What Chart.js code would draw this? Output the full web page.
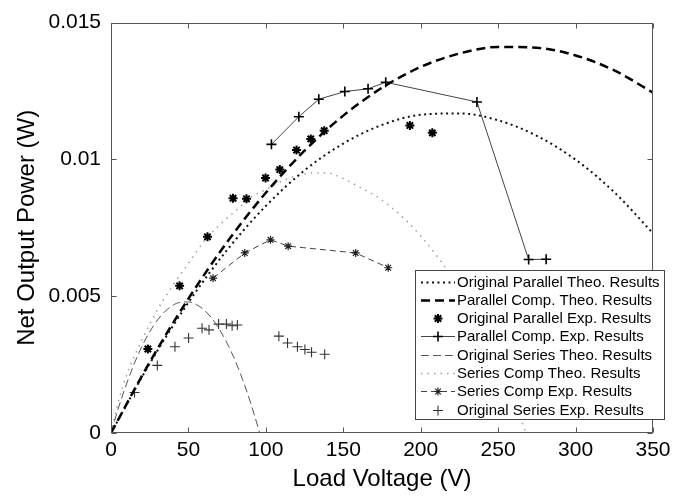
<!DOCTYPE html>
<html><head><meta charset="utf-8">
<script src="https://cdn.jsdelivr.net/npm/chart.js@4.4.0/dist/chart.umd.min.js"></script>
<style>html,body{margin:0;padding:0;background:#fff}#wrap{width:688px;height:496px}</style>
</head><body><div id="wrap"><canvas id="c" width="688" height="496"></canvas></div>
<script>
// ---- Data ----
const seriesNames = [
  'Original Parallel Theo. Results',
  'Parallel Comp. Theo. Results',
  'Original Parallel Exp. Results',
  'Parallel Comp. Exp. Results',
  'Original Series Theo. Results',
  'Series Comp Theo. Results',
  'Series Comp Exp. Results',
  'Original Series Exp. Results'
];
const xTickValues = [0, 50, 100, 150, 200, 250, 300, 350];
const xTickLabels = ['0', '50', '100', '150', '200', '250', '300', '350'];
const yTickValues = [0, 0.005, 0.01, 0.015];
const yTickLabels = ['0', '0.005', '0.01', '0.015'];
const xTitle = 'Load Voltage (V)';
const yTitle = 'Net Output Power (W)';

const origParTheoV = [0, 25, 50, 75, 100, 125, 150, 175, 200, 225, 250, 275, 300, 325, 350];
const origParTheoP = [0, 0.00254, 0.00477, 0.00669, 0.0083, 0.0096, 0.01058, 0.01126, 0.01163, 0.01168, 0.01143, 0.01086, 0.00999, 0.0088, 0.0073];

const parCompTheoV = [0, 25, 50, 75, 100, 125, 150, 175, 200, 225, 250, 275, 300, 325, 350];
const parCompTheoP = [0, 0.00259, 0.00491, 0.00698, 0.00878, 0.01032, 0.0116, 0.01262, 0.01338, 0.01387, 0.01411, 0.01408, 0.0138, 0.01325, 0.01244];

const origParExpV = [23.8, 44.3, 62.3, 78.8, 87.5, 99.8, 109, 119.8, 129, 137.7, 193, 207.5];
const origParExpP = [0.00307, 0.00538, 0.00717, 0.00858, 0.00856, 0.00932, 0.00963, 0.01034, 0.01075, 0.01105, 0.01124, 0.01097];

const parCompExpV = [103.6, 121.3, 134.2, 151, 166, 177.4, 236.3, 269.7, 281];
const parCompExpP = [0.01055, 0.01156, 0.0122, 0.01248, 0.01258, 0.01282, 0.0121, 0.00634, 0.00635];

const origSerTheoV = [0, 5, 10, 15, 20, 25, 30, 35, 40, 45, 50, 55, 60, 65, 70, 75, 80, 85, 90, 95, 96];
const origSerTheoP = [0, 0.00095, 0.00179, 0.00253, 0.00317, 0.0037, 0.00413, 0.00445, 0.00467, 0.00478, 0.00479, 0.0047, 0.0045, 0.0042, 0.00379, 0.00328, 0.00267, 0.00195, 0.00113, 0.0002, 0];

const serCompTheoV = [0, 5, 10, 20, 30, 40, 50, 60, 70, 80, 90, 100, 110, 120, 130, 140, 150, 160, 170, 180, 190, 200, 210, 220, 230, 240, 250, 260, 268];
const serCompTheoP = [0, 0.0012, 0.0021, 0.0034, 0.0045, 0.0054, 0.0062, 0.0070, 0.0076, 0.0081, 0.0086, 0.0089, 0.0092, 0.0094, 0.0095, 0.0095, 0.0093, 0.0090, 0.0087, 0.0083, 0.0078, 0.0072, 0.0065, 0.0057, 0.0047, 0.0036, 0.0025, 0.0012, 0];

const serCompExpV = [65.9, 86.4, 103, 114.4, 158, 179];
const serCompExpP = [0.00566, 0.00658, 0.00706, 0.00683, 0.00658, 0.00604];

const origSerExpV = [15.2, 29.9, 41.3, 50.1, 58.8, 63.3, 69.5, 74.5, 78.2, 81.6, 108.4, 114, 120.4, 125.2, 129.5, 138];
const origSerExpP = [0.00148, 0.00247, 0.00315, 0.00347, 0.00383, 0.00377, 0.00398, 0.00398, 0.00392, 0.00395, 0.00354, 0.00329, 0.00315, 0.00305, 0.00295, 0.00288];

const pts = (xs, ys) => xs.map((x, i) => ({x: x, y: ys[i]}));

const datasets = [
  {label: seriesNames[0], data: pts(origParTheoV, origParTheoP), showLine: true, borderColor: '#111', borderWidth: 2, borderDash: [2, 3.5], pointRadius: 0, cubicInterpolationMode: 'monotone'},
  {label: seriesNames[1], data: pts(parCompTheoV, parCompTheoP), showLine: true, borderColor: '#000', borderWidth: 2.5, borderDash: [9, 5], pointRadius: 0, cubicInterpolationMode: 'monotone'},
  {label: seriesNames[2], data: pts(origParExpV, origParExpP), showLine: false, borderColor: '#000', backgroundColor: '#000', pointStyle: 'star', pointRadius: 4.5, pointBorderWidth: 2},
  {label: seriesNames[3], data: pts(parCompExpV, parCompExpP), showLine: true, borderColor: '#444', borderWidth: 1, pointBorderColor: '#000', pointStyle: 'cross', pointRadius: 5, pointBorderWidth: 1.6, tension: 0},
  {label: seriesNames[4], data: pts(origSerTheoV, origSerTheoP), showLine: true, borderColor: '#555', borderWidth: 1, borderDash: [8, 4], pointRadius: 0, cubicInterpolationMode: 'monotone'},
  {label: seriesNames[5], data: pts(serCompTheoV, serCompTheoP), showLine: true, borderColor: '#a0a0a0', borderWidth: 1.5, borderDash: [1.5, 5], pointRadius: 0, cubicInterpolationMode: 'monotone'},
  {label: seriesNames[6], data: pts(serCompExpV, serCompExpP), showLine: true, borderColor: '#444', borderWidth: 1, borderDash: [6, 4], pointBorderColor: '#222', pointStyle: 'star', pointRadius: 4, pointBorderWidth: 1.2, tension: 0},
  {label: seriesNames[7], data: pts(origSerExpV, origSerExpP), showLine: false, borderColor: '#333', pointStyle: 'cross', pointRadius: 5, pointBorderWidth: 1.1}
];

const FONT = '"Liberation Sans", Arial, Helvetica, sans-serif';
Chart.defaults.font.family = FONT;
Chart.defaults.color = '#000';

const framePlugin = {
  id: 'frame',
  afterDatasetsDraw(chart) {
    const {ctx, chartArea: a, scales: {x, y}} = chart;
    ctx.save();
    ctx.strokeStyle = '#555';
    ctx.lineWidth = 1;
    ctx.setLineDash([]);
    const L = Math.round(a.left) + 0.5, R = Math.round(a.right) - 0.5;
    const T = Math.round(a.top) + 0.5, B = Math.round(a.bottom) - 0.5;
    ctx.strokeRect(L, T, R - L, B - T);
    const tl = 5;
    ctx.beginPath();
    xTickValues.forEach(v => {
      const px = Math.round(x.getPixelForValue(v)) + 0.5;
      ctx.moveTo(px, B); ctx.lineTo(px, B - tl);
      ctx.moveTo(px, T); ctx.lineTo(px, T + tl);
    });
    yTickValues.forEach(v => {
      const py = Math.round(y.getPixelForValue(v)) + 0.5;
      ctx.moveTo(L, py); ctx.lineTo(L + tl, py);
      ctx.moveTo(R, py); ctx.lineTo(R - tl, py);
    });
    ctx.stroke();
    ctx.restore();
  }
};

const legendPlugin = {
  id: 'boxLegend',
  afterDraw(chart) {
    const ctx = chart.ctx;
    const bx = 415.5, by = 270.5, bw = 249, bh = 149;
    ctx.save();
    ctx.fillStyle = '#fff';
    ctx.fillRect(bx, by, bw, bh);
    ctx.strokeStyle = '#444';
    ctx.lineWidth = 1;
    ctx.setLineDash([]);
    ctx.strokeRect(bx, by, bw, bh);
    const rowH = 18.3, y0 = 281.5;
    chart.data.datasets.forEach((ds, i) => {
      const yy = Math.round(y0 + i * rowH) + 0.5;
      const x1 = 421, x2 = 455, xm = 438;
      if (ds.showLine) {
        ctx.save();
        ctx.strokeStyle = ds.borderColor;
        ctx.lineWidth = ds.borderWidth;
        ctx.setLineDash(ds.borderDash || []);
        ctx.beginPath(); ctx.moveTo(x1, yy); ctx.lineTo(x2, yy); ctx.stroke();
        ctx.restore();
      }
      if (ds.pointRadius > 0) {
        ctx.save();
        ctx.setLineDash([]);
        ctx.strokeStyle = ds.pointBorderColor || ds.borderColor;
        ctx.fillStyle = ds.backgroundColor || ds.borderColor;
        ctx.lineWidth = ds.pointBorderWidth;
        Chart.helpers.drawPoint(ctx, {pointStyle: ds.pointStyle, radius: ds.pointRadius, borderWidth: ds.pointBorderWidth, rotation: 0}, xm, yy);
        ctx.restore();
      }
      ctx.fillStyle = '#000';
      ctx.font = '15px ' + FONT;
      ctx.textBaseline = 'middle';
      ctx.textAlign = 'left';
      ctx.fillText(ds.label, 457, yy + 0.5);
    });
    ctx.restore();
  }
};

new Chart(document.getElementById('c'), {
  type: 'scatter',
  data: {datasets: datasets},
  options: {
    responsive: false,
    animation: false,
    devicePixelRatio: 1,
    layout: {padding: {top: 14, right: 35, left: 0, bottom: 0}},
    plugins: {legend: {display: false}, tooltip: {enabled: false}},
    scales: {
      x: {
        type: 'linear', min: 0, max: 350,
        afterBuildTicks: s => { s.ticks = xTickValues.map(v => ({value: v})); },
        afterFit: s => { s.height = 63; },
        ticks: {callback: (v, i) => xTickLabels[i], font: {size: 21}, padding: 5, maxRotation: 0, autoSkip: false, color: '#000'},
        grid: {display: false, drawTicks: false},
        border: {display: false},
        title: {display: true, text: xTitle, font: {size: 24}, padding: {top: 0, bottom: 2}, color: '#000'}
      },
      y: {
        type: 'linear', min: 0, max: 0.015,
        afterBuildTicks: s => { s.ticks = yTickValues.map(v => ({value: v})); },
        afterFit: s => { s.width = 111; },
        ticks: {callback: (v, i) => yTickLabels[i], font: {size: 21}, padding: 10, autoSkip: false, color: '#000'},
        grid: {display: false, drawTicks: false},
        border: {display: false},
        title: {display: true, text: yTitle, font: {size: 24}, padding: {top: 13, bottom: 0}, color: '#000'}
      }
    }
  },
  plugins: [framePlugin, legendPlugin]
});
</script>
</body></html>
